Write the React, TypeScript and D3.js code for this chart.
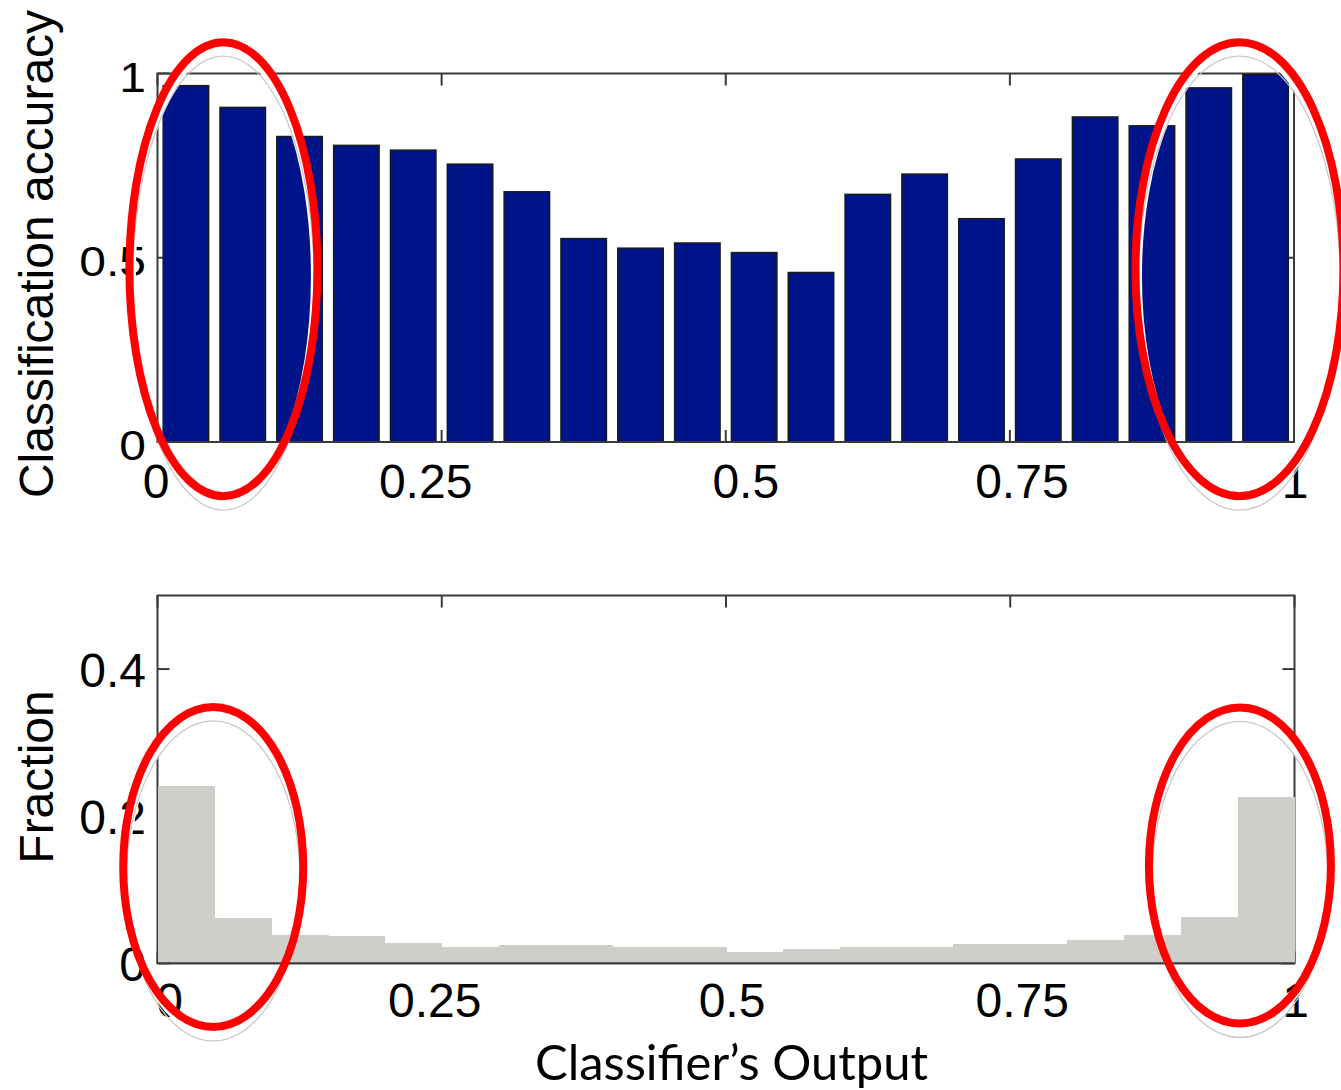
import React, { useEffect, useRef } from "react";
import * as d3 from "d3";

// left edge of each classifier-output bin (bins are 0.05 wide)
const bins = [0, 0.05, 0.1, 0.15, 0.2, 0.25, 0.3, 0.35, 0.4, 0.45, 0.5, 0.55, 0.6, 0.65, 0.7, 0.75, 0.8, 0.85, 0.9, 0.95];
const binWidth = 0.05;

// top panel: classification accuracy per bin
const accuracy = [0.967, 0.908, 0.829, 0.805, 0.792, 0.754, 0.679, 0.552, 0.526, 0.54, 0.514, 0.46, 0.672, 0.727, 0.606, 0.768, 0.882, 0.858, 0.961, 0.997];

// bottom panel: fraction of samples per bin
const fraction = [0.241, 0.061, 0.039, 0.037, 0.0275, 0.022, 0.0244, 0.0244, 0.022, 0.022, 0.016, 0.02, 0.022, 0.022, 0.026, 0.026, 0.032, 0.039, 0.063, 0.226];

const xTicks = [0, 0.25, 0.5, 0.75, 1];
const xTickLabels = ["0", "0.25", "0.5", "0.75", "1"];
const accTicks = [0, 0.5, 1];
const accTickLabels = ["0", "0.5", "1"];
const fracTicks = [0, 0.2, 0.4];
const fracTickLabels = ["0", "0.2", "0.4"];

const W = 1341;
const H = 1090;
const axisColor = "#3a3a3a";
const tickLen = 12;
const labelFont = "'Liberation Sans', Arial, sans-serif";

function drawFrame(g: any, x: any, y: any, xt: number[], yt: number[]) {
  const [x0, x1] = x.range();
  const [yb, yt0] = y.range();
  const f = g.append("g").attr("stroke", axisColor).attr("stroke-width", 2).attr("fill", "none");
  f.append("rect").attr("x", x0).attr("y", yt0).attr("width", x1 - x0).attr("height", yb - yt0);
  xt.forEach((t) => {
    f.append("line").attr("x1", x(t)).attr("x2", x(t)).attr("y1", yb).attr("y2", yb - tickLen);
    f.append("line").attr("x1", x(t)).attr("x2", x(t)).attr("y1", yt0).attr("y2", yt0 + tickLen);
  });
  yt.forEach((t) => {
    f.append("line").attr("y1", y(t)).attr("y2", y(t)).attr("x1", x0).attr("x2", x0 + tickLen);
    f.append("line").attr("y1", y(t)).attr("y2", y(t)).attr("x1", x1).attr("x2", x1 - tickLen);
  });
}

function drawHighlight(g: any, cx: number, cy: number, rx: number, ry: number) {
  // thin white band just inside the red ring
  g.append("ellipse")
    .attr("cx", cx).attr("cy", cy + 7).attr("rx", rx - 3.5).attr("ry", ry)
    .attr("fill", "none").attr("stroke", "#fff").attr("stroke-width", 6);
  // faint grey reflection ring
  g.append("ellipse")
    .attr("cx", cx).attr("cy", cy + 14).attr("rx", rx - 3).attr("ry", ry)
    .attr("fill", "none").attr("stroke", "#c8c8c8").attr("stroke-width", 1.3);
  g.append("ellipse")
    .attr("cx", cx).attr("cy", cy).attr("rx", rx).attr("ry", ry)
    .attr("fill", "none").attr("stroke", "#ff0000").attr("stroke-width", 8);
}

export default function App() {
  const ref = useRef<SVGSVGElement>(null);

  useEffect(() => {
    const svg = d3.select(ref.current);
    svg.selectAll("*").remove();

    // ---------- top panel ----------
    const xTop = d3.scaleLinear().domain([0, 1]).range([157.5, 1294]);
    const yTop = d3.scaleLinear().domain([0, 1]).range([442, 73.5]);
    const top = svg.append("g");

    drawFrame(top, xTop, yTop, xTicks, accTicks);

    const bw = xTop(binWidth) - xTop(0);
    top.selectAll("rect.bar")
      .data(accuracy)
      .enter()
      .append("rect")
      .attr("class", "bar")
      .attr("x", (d: number, i: number) => xTop(bins[i] + binWidth / 2) - bw * 0.4)
      .attr("width", bw * 0.8)
      .attr("y", (d: number) => yTop(d))
      .attr("height", (d: number) => yTop(0) - yTop(d))
      .attr("fill", "#00148a")
      .attr("stroke", "#1a1a1a")
      .attr("stroke-width", 1.5);

    top.append("line")
      .attr("x1", xTop(0)).attr("x2", xTop(1)).attr("y1", yTop(0)).attr("y2", yTop(0))
      .attr("stroke", axisColor).attr("stroke-width", 2);

    const topXNudge = [-1.5, -16, 20, 12, 1];
    top.selectAll("text.xt")
      .data(xTicks)
      .enter()
      .append("text")
      .attr("class", "xt")
      .attr("x", (d: number, i: number) => xTop(d) + topXNudge[i])
      .attr("y", 498)
      .attr("text-anchor", "middle")
      .style("font-family", labelFont)
      .style("font-size", "48px")
      .text((d: number, i: number) => xTickLabels[i]);

    top.selectAll("text.yt")
      .data(accTicks)
      .enter()
      .append("text")
      .attr("class", "yt")
      .attr("transform", (d: number) => `translate(146,${yTop(d) + 18}) scale(1,0.9)`)
      .attr("text-anchor", "end")
      .style("font-family", labelFont)
      .style("font-size", "48px")
      .text((d: number, i: number) => accTickLabels[i]);

    top.append("text")
      .attr("transform", "translate(53,254) rotate(-90)")
      .attr("text-anchor", "middle")
      .style("font-family", labelFont)
      .style("font-size", "48px")
      .text("Classification accuracy");

    // ---------- bottom panel ----------
    const xBot = d3.scaleLinear().domain([0, 1]).range([157.5, 1294.5]);
    const yBot = d3.scaleLinear().domain([0, 0.5]).range([963.3, 595.5]);
    const bot = svg.append("g");

    drawFrame(bot, xBot, yBot, xTicks, fracTicks);

    bot.selectAll("rect.hist")
      .data(fraction)
      .enter()
      .append("rect")
      .attr("class", "hist")
      .attr("x", (d: number, i: number) => xBot(bins[i]))
      .attr("width", xBot(binWidth) - xBot(0) + 0.5)
      .attr("y", (d: number) => yBot(d))
      .attr("height", (d: number) => yBot(0) - yBot(d))
      .attr("fill", "#cfcfca")
      .attr("shape-rendering", "crispEdges");

    bot.append("line")
      .attr("x1", xBot(0)).attr("x2", xBot(1)).attr("y1", yBot(0)).attr("y2", yBot(0))
      .attr("stroke", axisColor).attr("stroke-width", 2);

    const botXNudge = [12, -7, 6, 12, 1];
    bot.selectAll("text.xt")
      .data(xTicks)
      .enter()
      .append("text")
      .attr("class", "xt")
      .attr("x", (d: number, i: number) => xBot(d) + botXNudge[i])
      .attr("y", 1017)
      .attr("text-anchor", "middle")
      .style("font-family", labelFont)
      .style("font-size", "48px")
      .text((d: number, i: number) => xTickLabels[i]);

    bot.selectAll("text.yt")
      .data(fracTicks)
      .enter()
      .append("text")
      .attr("class", "yt")
      .attr("x", 146)
      .attr("y", (d: number) => yBot(d) + 18)
      .attr("text-anchor", "end")
      .style("font-family", labelFont)
      .style("font-size", "48px")
      .text((d: number, i: number) => fracTickLabels[i]);

    bot.append("text")
      .attr("transform", "translate(53,777) rotate(-90)")
      .attr("text-anchor", "middle")
      .style("font-family", labelFont)
      .style("font-size", "48px")
      .text("Fraction");

    bot.append("text")
      .attr("x", 535)
      .attr("y", 1080)
      .attr("textLength", 393)
      .attr("lengthAdjust", "spacingAndGlyphs")
      .style("font-family", "Lato, 'Open Sans', sans-serif")
      .style("font-size", "48px")
      .text("Classifier\u2019s Output");

    // ---------- red highlight ellipses ----------
    const marks = svg.append("g");
    drawHighlight(marks, xTop(0.058), yTop(0.469), 94, 227);
    drawHighlight(marks, xTop(0.952), yTop(0.469), 104, 227);
    drawHighlight(marks, xBot(0.049), yBot(0.131), 90, 160);
    drawHighlight(marks, xBot(0.952), yBot(0.133), 91, 158);
  }, []);

  return (
    <svg
      ref={ref}
      width={W}
      height={H}
      style={{ position: "absolute", left: 0, top: 0, background: "#fff" }}
    />
  );
}
